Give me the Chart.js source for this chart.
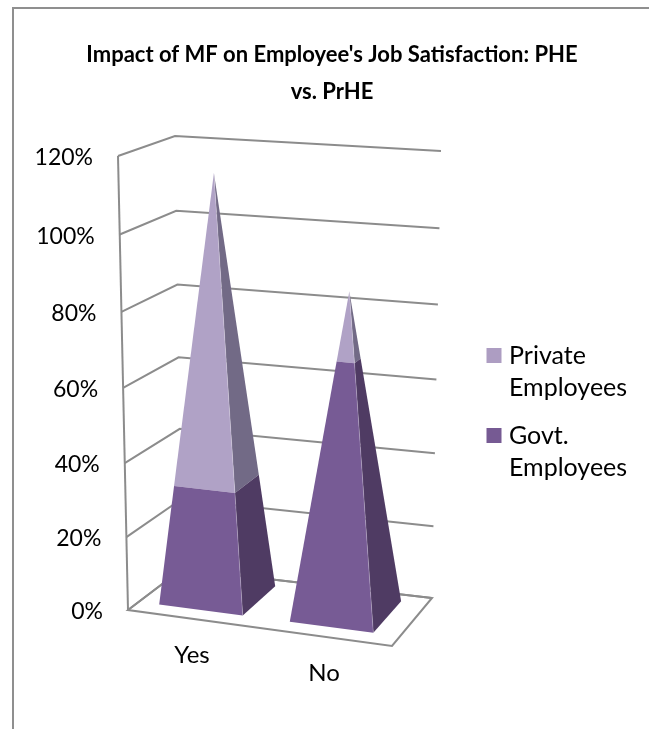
<!DOCTYPE html>
<html>
<head>
<meta charset="utf-8">
<title>Impact of MF on Employee's Job Satisfaction</title>
<style>
  html, body { margin: 0; padding: 0; background: #fff; }
  canvas { display: block; }
</style>
<script src="https://cdn.jsdelivr.net/npm/chart.js@4/dist/chart.umd.min.js"></script>
</head>
<body>
<canvas id="chart" width="649" height="729"></canvas>
<script>
// Survey shares, in percent of each employee group
const categories = ['Yes', 'No'];
const govtEmployees = [32, 68];
const privateEmployees = [82, 18];
const seriesNames = { govt: ['Govt.', 'Employees'], priv: ['Private', 'Employees'] };
const titleLines = ["Impact of MF on Employee's Job Satisfaction: PHE", 'vs. PrHE'];
const axisMax = 120;
const axisStep = 20;

const FONT = 'Lato, "Open Sans", sans-serif';
const WALL_COLOR = '#8c8c8c';
const FACE_COLORS = {
  [seriesNames.govt.join(' ')]: { front: '#775b95', side: '#4f3b63' },
  [seriesNames.priv.join(' ')]: { front: '#b0a2c6', side: '#726a86' }
};

// Corners of the plot box on the page, indexed [width][height][depth]
const BOX = [
  [[[128, 610], [182, 569]], [[118, 156], [175, 136]]],
  [[[392, 646], [432, 598]], [[401, 178], [441, 151]]]
];
const FORESHORTEN = 0.043;   // vertical perspective along the value axis
const DEPTH_NEAR = 0.2;      // front and back of the pyramids inside the box
const DEPTH_FAR = 0.87;
const ACROSS_SHIFT = -0.012; // pyramids sit slightly left of their category centre

const mix = (a, b, t) => a + (b - a) * t;

// Oblique box projection: u across, v up, d into the page, all 0..1
function boxPoint(u, v, d) {
  const vv = v * (1 - FORESHORTEN) / (1 - FORESHORTEN * v);
  const at = (axis) => mix(
    mix(mix(BOX[0][0][0][axis], BOX[0][0][1][axis], d), mix(BOX[0][1][0][axis], BOX[0][1][1][axis], d), vv),
    mix(mix(BOX[1][0][0][axis], BOX[1][0][1][axis], d), mix(BOX[1][1][0][axis], BOX[1][1][1][axis], d), vv),
    u
  );
  return [at(0), at(1)];
}

const uOf = (chart, px) => (px - chart.chartArea.left) / chart.chartArea.width;
const vOf = (chart, py) => (chart.chartArea.bottom - py) / chart.chartArea.height;

function polygon(ctx, points, fill) {
  ctx.beginPath();
  points.forEach((p, i) => (i ? ctx.lineTo(p[0], p[1]) : ctx.moveTo(p[0], p[1])));
  ctx.closePath();
  ctx.fillStyle = fill;
  ctx.fill();
}

// Stacked bars whose stack tapers to a single apex, drawn as a square pyramid
class PyramidController extends Chart.BarController {
  draw() {
    const { chart, _cachedMeta: meta } = this;
    const { ctx } = chart;
    const yScale = chart.scales.y;
    const faces = FACE_COLORS[this.getDataset().label];
    meta.data.forEach((bar, i) => {
      const total = chart.data.datasets.reduce((sum, ds) => sum + ds.data[i], 0);
      const apex = yScale.getPixelForValue(total);
      const floor = yScale.getPixelForValue(0);
      const cu = uOf(chart, bar.x) + ACROSS_SHIFT;
      const cd = (DEPTH_NEAR + DEPTH_FAR) / 2;
      const hu = bar.width / chart.chartArea.width / 2;
      const hd = (DEPTH_FAR - DEPTH_NEAR) / 2;
      const corner = (py, su, sd) => {
        const taper = (py - apex) / (floor - apex);
        return boxPoint(cu + su * hu * taper, vOf(chart, py), cd + sd * hd * taper);
      };
      ctx.save();
      polygon(ctx, [corner(bar.base, 1, -1), corner(bar.base, 1, 1), corner(bar.y, 1, 1), corner(bar.y, 1, -1)], faces.side);
      polygon(ctx, [corner(bar.base, -1, -1), corner(bar.base, 1, -1), corner(bar.y, 1, -1), corner(bar.y, -1, -1)], faces.front);
      // faint highlight where the two visible faces meet
      const a = corner(bar.base, 1, -1);
      const b = corner(bar.y, 1, -1);
      ctx.strokeStyle = 'rgba(255,255,255,0.22)';
      ctx.lineWidth = 1;
      ctx.beginPath();
      ctx.moveTo(a[0], a[1]);
      ctx.lineTo(b[0], b[1]);
      ctx.stroke();
      ctx.restore();
    });
  }
}
PyramidController.id = 'pyramid';
PyramidController.defaults = Chart.BarController.defaults;
Chart.register(PyramidController);

// Card outline, box walls, floor and axis labels
const boxFrame = {
  id: 'boxFrame',
  afterLayout(chart) {
    // widen the legend box so its longest label is not cut at the layout edge
    chart.legend.left -= 5;
    chart.legend.right = chart.width;
  },
  beforeDraw(chart) {
    const { ctx, width, height } = chart;
    ctx.save();
    ctx.fillStyle = '#fff';
    ctx.fillRect(0, 0, width, height);
    ctx.strokeStyle = '#8f8f8f';
    ctx.lineWidth = 2;
    ctx.beginPath();
    ctx.moveTo(13, height);
    ctx.lineTo(13, 8);
    ctx.lineTo(width, 8);
    ctx.stroke();
    ctx.restore();
  },
  beforeDatasetsDraw(chart) {
    const { ctx, scales: { x, y } } = chart;
    const stroke = (pts) => {
      ctx.beginPath();
      pts.forEach((p, i) => (i ? ctx.lineTo(p[0], p[1]) : ctx.moveTo(p[0], p[1])));
      ctx.stroke();
    };
    ctx.save();
    ctx.strokeStyle = WALL_COLOR;
    ctx.lineWidth = 2;
    ctx.lineJoin = 'miter';
    y.ticks.forEach((tick) => {
      const v = vOf(chart, y.getPixelForValue(tick.value));
      stroke([boxPoint(0, v, 0), boxPoint(0, v, 1), boxPoint(1, v, 1)]);
    });
    stroke([boxPoint(0, 0, 0), boxPoint(0, 1, 0)]);
    stroke([boxPoint(0, 0, 1), boxPoint(0, 0, 0), boxPoint(1, 0, 0), boxPoint(1, 0, 1), boxPoint(0, 0, 1)]);

    ctx.fillStyle = '#000';
    ctx.font = '23px ' + FONT;
    ctx.textBaseline = 'middle';
    ctx.textAlign = 'right';
    y.ticks.forEach((tick) => {
      const v = vOf(chart, y.getPixelForValue(tick.value));
      const p = boxPoint(0, v, 0);
      ctx.fillText(tick.label, p[0] - 25, p[1] + 2);
    });
    ctx.font = '24px ' + FONT;
    ctx.textAlign = 'center';
    x.ticks.forEach((tick, i) => {
      const u = uOf(chart, x.getPixelForTick(i));
      const p = boxPoint(u, 0, 0);
      ctx.fillText(x.getLabelForValue(tick.value), p[0] - 2, p[1] + 36.5);
    });
    ctx.restore();
  }
};

new Chart(document.getElementById('chart'), {
  type: 'pyramid',
  data: {
    labels: categories,
    datasets: [
      { label: seriesNames.govt.join(' '), data: govtEmployees, backgroundColor: '#765a93', stack: 'share', clip: false, lines: seriesNames.govt },
      { label: seriesNames.priv.join(' '), data: privateEmployees, backgroundColor: '#ad9dc2', stack: 'share', clip: false, lines: seriesNames.priv }
    ]
  },
  plugins: [boxFrame],
  options: {
    responsive: false,
    animation: false,
    events: [],
    layout: { padding: { left: 35, right: 20, top: 36, bottom: 40 } },
    datasets: { pyramid: { barPercentage: 0.64, categoryPercentage: 1 } },
    scales: {
      x: {
        type: 'category', stacked: true, offset: true,
        grid: { display: false }, border: { display: false }, ticks: { display: false }
      },
      y: {
        type: 'linear', stacked: true, min: 0, max: axisMax,
        grid: { display: false }, border: { display: false },
        ticks: { display: false, stepSize: axisStep, callback: (v) => v + '%' }
      }
    },
    plugins: {
      title: {
        display: true,
        text: titleLines,
        color: '#000',
        font: { family: FONT, size: 22, weight: 'bold', lineHeight: 37 / 22 },
        padding: { top: 0, bottom: 39 }
      },
      legend: {
        position: 'right',
        fullSize: false,
        reverse: true,
        labels: {
          color: '#000',
          font: { family: FONT, size: 25, lineHeight: 32 / 25 },
          boxWidth: 5,
          boxHeight: 5,
          padding: 16,
          generateLabels(chart) {
            return chart.data.datasets.map((ds, i) => ({
              text: ds.lines,
              fillStyle: ds.backgroundColor,
              strokeStyle: ds.backgroundColor,
              lineWidth: 10,
              datasetIndex: i,
              hidden: false
            }));
          }
        }
      },
      tooltip: { enabled: false }
    }
  }
});
</script>
</body>
</html>
